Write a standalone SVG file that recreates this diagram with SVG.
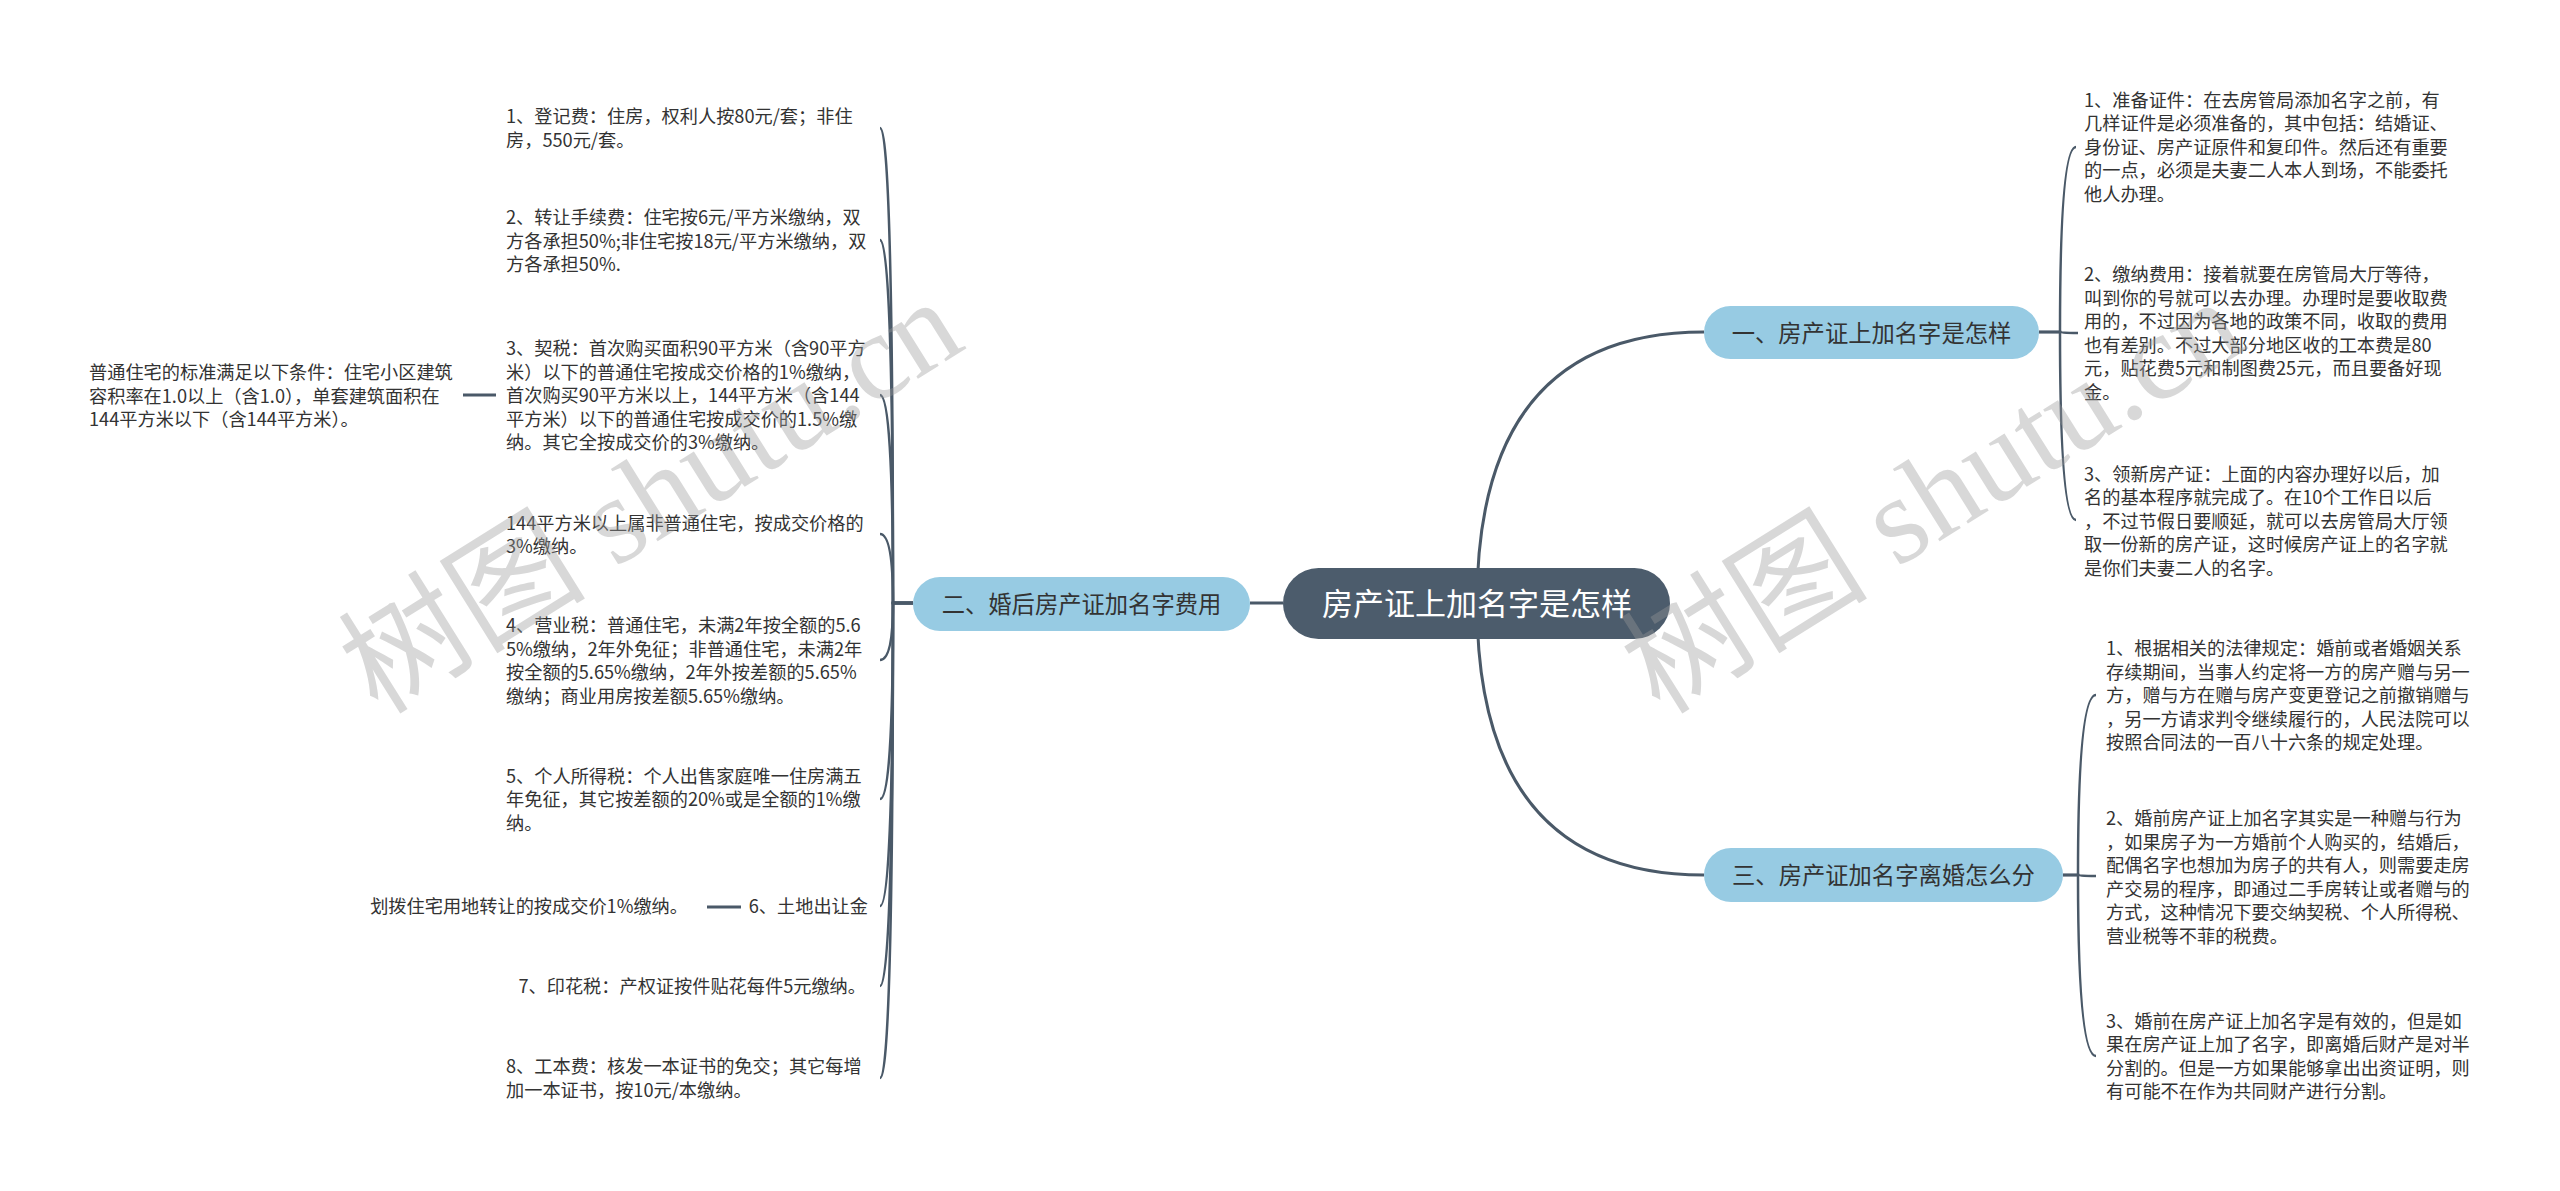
<svg xmlns="http://www.w3.org/2000/svg" width="2560" height="1191" viewBox="0 0 2560 1191">
<style>
.t{font-family:"Noto Sans CJK SC","Liberation Sans",sans-serif;font-size:18.2px;fill:#333;}
.bn{fill:#97cbe3;}
.bt{font-family:"Noto Sans CJK SC","Liberation Sans",sans-serif;font-size:23.3px;fill:#333;text-anchor:middle;}
.ct{font-family:"Noto Sans CJK SC","Liberation Sans",sans-serif;font-size:31px;fill:#fff;text-anchor:middle;}
.c{fill:none;stroke:#4a5968;stroke-width:2.5;}
.cm{fill:none;stroke:#4a5968;stroke-width:3;}
.wm{font-family:"Liberation Serif","Noto Sans CJK SC",serif;font-size:124px;fill:#9a9a9a;opacity:0.38;}
</style>
<rect width="2560" height="1191" fill="#fff"/>
<g id="connectors">
<path class="cm" d="M1477 603 Q1477 332 1704 332"/>
<path class="cm" d="M1477 603 Q1477 875 1704 875"/>
<path class="cm" d="M1283 603 H1250"/>
<path class="c" d="M913 603 H893 Q893 128 880 128"/>
<path class="c" d="M913 603 H893 Q893 240 880 240"/>
<path class="c" d="M913 603 H893 Q893 395 880 395"/>
<path class="c" d="M913 603 H893 Q893 534 880 534"/>
<path class="c" d="M913 603 H893 Q893 660 880 660"/>
<path class="c" d="M913 603 H893 Q893 799 880 799"/>
<path class="c" d="M913 603 H893 Q893 906 880 906"/>
<path class="c" d="M913 603 H893 Q893 986 880 986"/>
<path class="c" d="M913 603 H893 Q893 1078 880 1078"/>
<path class="cm" d="M496 395 H463"/>
<path class="cm" d="M741 907 H707"/>
<path class="c" d="M2039 332 H2060 Q2060 147 2076 147"/>
<path class="c" d="M2039 332 H2060 Q2060 333 2078 333"/>
<path class="c" d="M2039 332 H2060 Q2060 520 2076 520"/>
<path class="c" d="M2063 875 H2078 Q2078 695 2096 695"/>
<path class="c" d="M2063 875 H2078 Q2078 876 2096 876"/>
<path class="c" d="M2063 875 H2078 Q2078 1056 2096 1056"/>
</g>
<g id="root">
<rect x="1283" y="568" width="387" height="71" rx="35.5" fill="#4c5c6c"/>
<text class="ct" x="1477" y="615">房产证上加名字是怎样</text>
</g>
<g id="b2">
<rect class="bn" x="913" y="577" width="337" height="54" rx="27"/>
<text class="bt" x="1081.5" y="613">二、婚后房产证加名字费用</text>
</g>
<g id="b1">
<rect class="bn" x="1704" y="306" width="335" height="53" rx="26.5"/>
<text class="bt" x="1871.5" y="341.5">一、房产证上加名字是怎样</text>
</g>
<g id="b3">
<rect class="bn" x="1704" y="848" width="359" height="54" rx="27"/>
<text class="bt" x="1883.5" y="884">三、房产证加名字离婚怎么分</text>
</g>
<g id="l1"><text class="t"><tspan x="506" y="123">1、登记费：住房，权利人按80元/套；非住</tspan><tspan x="506" y="146.5">房，550元/套。</tspan></text></g>
<g id="l2"><text class="t"><tspan x="506" y="224">2、转让手续费：住宅按6元/平方米缴纳，双</tspan><tspan x="506" y="247.5">方各承担50%;非住宅按18元/平方米缴纳，双</tspan><tspan x="506" y="271">方各承担50%.</tspan></text></g>
<g id="l3"><text class="t"><tspan x="506" y="355">3、契税：首次购买面积90平方米（含90平方</tspan><tspan x="506" y="378.5">米）以下的普通住宅按成交价格的1%缴纳，</tspan><tspan x="506" y="402">首次购买90平方米以上，144平方米（含144</tspan><tspan x="506" y="425.5">平方米）以下的普通住宅按成交价的1.5%缴</tspan><tspan x="506" y="449">纳。其它全按成交价的3%缴纳。</tspan></text></g>
<g id="l3a"><text class="t"><tspan x="89" y="379">普通住宅的标准满足以下条件：住宅小区建筑</tspan><tspan x="89" y="402.5">容积率在1.0以上（含1.0），单套建筑面积在</tspan><tspan x="89" y="426">144平方米以下（含144平方米）。</tspan></text></g>
<g id="l4"><text class="t"><tspan x="506" y="529.5">144平方米以上属非普通住宅，按成交价格的</tspan><tspan x="506" y="553">3%缴纳。</tspan></text></g>
<g id="l5"><text class="t"><tspan x="506" y="632">4、营业税：普通住宅，未满2年按全额的5.6</tspan><tspan x="506" y="655.5">5%缴纳，2年外免征；非普通住宅，未满2年</tspan><tspan x="506" y="679">按全额的5.65%缴纳，2年外按差额的5.65%</tspan><tspan x="506" y="702.5">缴纳；商业用房按差额5.65%缴纳。</tspan></text></g>
<g id="l6"><text class="t"><tspan x="506" y="782.5">5、个人所得税：个人出售家庭唯一住房满五</tspan><tspan x="506" y="806">年免征，其它按差额的20%或是全额的1%缴</tspan><tspan x="506" y="829.5">纳。</tspan></text></g>
<g id="l7"><text class="t" x="868" y="913" text-anchor="end">6、土地出让金</text></g>
<g id="l7a"><text class="t" x="688" y="913" text-anchor="end">划拨住宅用地转让的按成交价1%缴纳。</text></g>
<g id="l8"><text class="t" x="866" y="993" text-anchor="end">7、印花税：产权证按件贴花每件5元缴纳。</text></g>
<g id="l9"><text class="t"><tspan x="506" y="1073">8、工本费：核发一本证书的免交；其它每增</tspan><tspan x="506" y="1096.5">加一本证书，按10元/本缴纳。</tspan></text></g>
<g id="r1"><text class="t"><tspan x="2084" y="106.5">1、准备证件：在去房管局添加名字之前，有</tspan><tspan x="2084" y="130">几样证件是必须准备的，其中包括：结婚证、</tspan><tspan x="2084" y="153.5">身份证、房产证原件和复印件。然后还有重要</tspan><tspan x="2084" y="177">的一点，必须是夫妻二人本人到场，不能委托</tspan><tspan x="2084" y="200.5">他人办理。</tspan></text></g>
<g id="r2"><text class="t"><tspan x="2084" y="281">2、缴纳费用：接着就要在房管局大厅等待，</tspan><tspan x="2084" y="304.5">叫到你的号就可以去办理。办理时是要收取费</tspan><tspan x="2084" y="328">用的，不过因为各地的政策不同，收取的费用</tspan><tspan x="2084" y="351.5">也有差别。不过大部分地区收的工本费是80</tspan><tspan x="2084" y="375">元，贴花费5元和制图费25元，而且要备好现</tspan><tspan x="2084" y="398.5">金。</tspan></text></g>
<g id="r3"><text class="t"><tspan x="2084" y="480.5">3、领新房产证：上面的内容办理好以后，加</tspan><tspan x="2084" y="504">名的基本程序就完成了。在10个工作日以后</tspan><tspan x="2084" y="527.5">，不过节假日要顺延，就可以去房管局大厅领</tspan><tspan x="2084" y="551">取一份新的房产证，这时候房产证上的名字就</tspan><tspan x="2084" y="574.5">是你们夫妻二人的名字。</tspan></text></g>
<g id="s1"><text class="t"><tspan x="2106" y="655">1、根据相关的法律规定：婚前或者婚姻关系</tspan><tspan x="2106" y="678.5">存续期间，当事人约定将一方的房产赠与另一</tspan><tspan x="2106" y="702">方，赠与方在赠与房产变更登记之前撤销赠与</tspan><tspan x="2106" y="725.5">，另一方请求判令继续履行的，人民法院可以</tspan><tspan x="2106" y="749">按照合同法的一百八十六条的规定处理。</tspan></text></g>
<g id="s2"><text class="t"><tspan x="2106" y="825">2、婚前房产证上加名字其实是一种赠与行为</tspan><tspan x="2106" y="848.5">，如果房子为一方婚前个人购买的，结婚后，</tspan><tspan x="2106" y="872">配偶名字也想加为房子的共有人，则需要走房</tspan><tspan x="2106" y="895.5">产交易的程序，即通过二手房转让或者赠与的</tspan><tspan x="2106" y="919">方式，这种情况下要交纳契税、个人所得税、</tspan><tspan x="2106" y="942.5">营业税等不菲的税费。</tspan></text></g>
<g id="s3"><text class="t"><tspan x="2106" y="1027.5">3、婚前在房产证上加名字是有效的，但是如</tspan><tspan x="2106" y="1051">果在房产证上加了名字，即离婚后财产是对半</tspan><tspan x="2106" y="1074.5">分割的。但是一方如果能够拿出出资证明，则</tspan><tspan x="2106" y="1098">有可能不在作为共同财产进行分割。</tspan></text></g>
<g id="watermark">
<text class="wm" transform="translate(378,716) rotate(-32)">树图 shutu.cn</text>
<text class="wm" transform="translate(1660,716) rotate(-32)">树图 shutu.cn</text>
</g>
</svg>
